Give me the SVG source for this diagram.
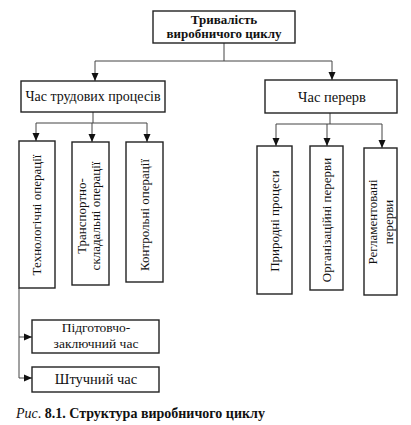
<svg xmlns="http://www.w3.org/2000/svg" width="411" height="425" viewBox="0 0 411 425">
<style>
.box{fill:#fff;stroke:#222;stroke-width:1.4}
.t{font-family:"Liberation Serif","Times New Roman",serif;font-size:13px;fill:#111;text-anchor:middle}
.h{font-size:14.5px}
.p{font-size:13.5px}
.b{font-weight:bold}
.c{fill:none;stroke:#444;stroke-width:1}
</style>
<defs>
<marker id="ah" markerUnits="userSpaceOnUse" markerWidth="8" markerHeight="8" viewBox="0 0 8 8" refX="8" refY="4" orient="auto">
<path d="M0,0.5 L8,4 L0,7.5 Z" fill="#111"/>
</marker>
</defs>
<rect width="411" height="425" fill="#fff"/>
<g id="connectors">
<path class="c" d="M224,43 V61 M95,61 H332"/>
<path class="c" d="M95,61 V81" marker-end="url(#ah)"/>
<path class="c" d="M332,61 V80" marker-end="url(#ah)"/>
<path class="c" d="M93,112 V123 M36,123 H147"/>
<path class="c" d="M36,123 V141" marker-end="url(#ah)"/>
<path class="c" d="M92,123 V142" marker-end="url(#ah)"/>
<path class="c" d="M147,123 V142" marker-end="url(#ah)"/>
<path class="c" d="M330,113 V124 M276,124 H382"/>
<path class="c" d="M276,124 V146" marker-end="url(#ah)"/>
<path class="c" d="M327,124 V146" marker-end="url(#ah)"/>
<path class="c" d="M382,124 V148" marker-end="url(#ah)"/>
<path class="c" d="M19,288 V378"/>
<path class="c" d="M19,337 H32" marker-end="url(#ah)"/>
<path class="c" d="M19,378 H32" marker-end="url(#ah)"/>
</g>
<g id="n-root">
<rect class="box" x="153" y="11" width="142" height="32"/>
<text class="t b" x="224" y="24">Тривалість</text>
<text class="t b" x="224" y="38">виробничого циклу</text>
</g>
<g id="n-labor">
<rect class="box" x="21" y="81" width="144" height="31"/>
<text class="t" x="93" y="101" style="font-size:14px">Час трудових процесів</text>
</g>
<g id="n-breaks">
<rect class="box" x="265" y="80" width="132" height="33"/>
<text class="t h" x="332" y="102">Час перерв</text>
</g>
<g id="n-tech">
<rect class="box" x="19" y="141" width="36" height="147"/>
<text class="t" transform="translate(41,215) rotate(-90)">Технологічні операції</text>
</g>
<g id="n-trans">
<rect class="box" x="72" y="142" width="37" height="143"/>
<text class="t" transform="translate(86,216) rotate(-90)">Транспортно-</text>
<text class="t" transform="translate(100,216) rotate(-90)">складальні операції</text>
</g>
<g id="n-ctrl">
<rect class="box" x="126" y="142" width="37" height="140"/>
<text class="t" transform="translate(149,215) rotate(-90)">Контрольні операції</text>
</g>
<g id="n-nat">
<rect class="box" x="257" y="146" width="35" height="148"/>
<text class="t" transform="translate(279,221) rotate(-90)">Природні процеси</text>
</g>
<g id="n-org">
<rect class="box" x="310" y="146" width="33" height="144"/>
<text class="t" transform="translate(331,220) rotate(-90)">Організаційні перерви</text>
</g>
<g id="n-reg">
<rect class="box" x="364" y="148" width="33" height="147"/>
<text class="t" transform="translate(377,222) rotate(-90)">Регламентовані</text>
<text class="t" transform="translate(393,222) rotate(-90)">перерви</text>
</g>
<g id="n-prep">
<rect class="box" x="32" y="320" width="127" height="33"/>
<text class="t p" x="96" y="332">Підготовчо-</text>
<text class="t p" x="96" y="348">заключний час</text>
</g>
<g id="n-piece">
<rect class="box" x="32" y="367" width="127" height="25"/>
<text class="t h" x="96" y="384">Штучний час</text>
</g>
<g id="caption">
<text x="16" y="418" style="font-family:'Liberation Serif','Times New Roman',serif;font-size:14px;fill:#111"><tspan font-style="italic">Рис</tspan><tspan>. </tspan><tspan font-weight="bold">8.1. Структура виробничого циклу</tspan></text>
</g>
</svg>
